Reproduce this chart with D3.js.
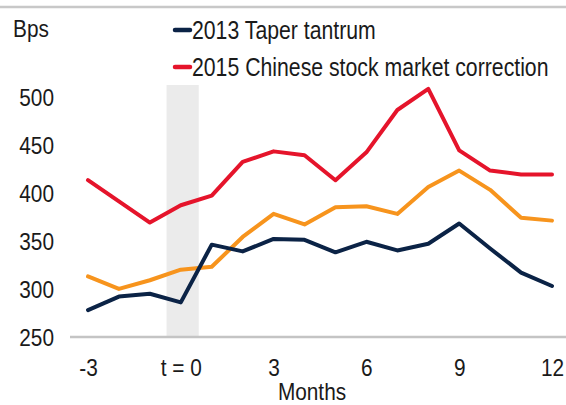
<!DOCTYPE html>
<html>
<head>
<meta charset="utf-8">
<script src="https://cdn.jsdelivr.net/npm/d3@7"></script>
<style>
  html, body { margin: 0; padding: 0; background: #fff; }
  svg { display: block; }
  text { font-family: "Liberation Sans", Arial, sans-serif; fill: #1a1a1a; }
</style>
</head>
<body>
<svg id="chart" width="566" height="405"></svg>
<script>
// ---- data ----
const months = [-3, -2, -1, 0, 1, 2, 3, 4, 5, 6, 7, 8, 9, 10, 11, 12];
const taper2013 = [278, 292, 295, 286, 346, 339, 352, 351, 338, 349, 340, 347, 368, 342, 317, 303];
const china2015 = [413, 391, 369, 387, 397, 432, 443, 439, 413, 442, 486, 508, 444, 423, 419, 419];
const otherEpisode = [313, 300, 309, 320, 323, 354, 378, 367, 385, 386, 378, 406, 423, 403, 374, 371];
const xTickValues = [-3, 0, 3, 6, 9, 12];
const xTickLabels = ["-3", "t = 0", "3", "6", "9", "12"];
const yTickValues = [250, 300, 350, 400, 450, 500];
const shadeRange = [-0.46, 0.58];
const legendItems = [
  { name: "2013 Taper tantrum", color: "#0b2346" },
  { name: "2015 Chinese stock market correction", color: "#e5142b" }
];

const series = [
  { values: otherEpisode, color: "#f7941d" },
  { values: taper2013, color: "#0b2346" },
  { values: china2015, color: "#e5142b" }
];

const FS = 24.5;      // font size (vertical)
const SX = 0.85;      // horizontal condensing of the narrow typeface

// ---- chart ----
const svg = d3.select("#chart");
const x = d3.scaleLinear().domain([-3, 12]).range([88, 552]);
const y = d3.scaleLinear().domain([250, 512]).range([337, 85]);

function label(px, py, str, anchor, size) {
  return svg.append("text")
    .attr("transform", `translate(${px},${py}) scale(${SX},1)`)
    .attr("text-anchor", anchor || "start")
    .attr("font-size", size || FS)
    .text(str);
}

// top rule
svg.append("line").attr("x1", 0).attr("x2", 566).attr("y1", 7).attr("y2", 7)
  .attr("stroke", "#c8c8c8").attr("stroke-width", 2.5);

// shaded band
svg.append("rect")
  .attr("x", x(shadeRange[0])).attr("width", x(shadeRange[1]) - x(shadeRange[0]))
  .attr("y", y(512)).attr("height", y(250) - y(512))
  .attr("fill", "#ebebeb");

// x axis
const xAxis = d3.axisBottom(x).tickValues(xTickValues)
  .tickFormat((d, i) => xTickLabels[i]).tickSize(0).tickPadding(0);
const gx = svg.append("g").attr("transform", `translate(0,${y(250)})`).call(xAxis);
gx.select(".domain").remove();
gx.selectAll("text")
  .attr("y", 0).attr("dy", 0)
  .attr("transform", `translate(0,39) scale(${SX},1)`)
  .attr("font-size", FS).style("font-family", null).attr("fill", "#1a1a1a");
svg.append("line").attr("x1", 70).attr("x2", 566).attr("y1", y(250)).attr("y2", y(250))
  .attr("stroke", "#c4c4c4").attr("stroke-width", 2.5);

// y axis
const yAxis = d3.axisLeft(y).tickValues(yTickValues).tickSize(0).tickPadding(0);
const gy = svg.append("g").attr("transform", "translate(54,0)").call(yAxis);
gy.select(".domain").remove();
gy.selectAll("text")
  .attr("x", 0).attr("dy", 0)
  .attr("transform", `translate(0,8.5) scale(${SX},1)`)
  .attr("font-size", FS).style("font-family", null).attr("fill", "#1a1a1a");

// lines
const line = d3.line().x((d, i) => x(months[i])).y(d => y(d));
series.forEach(s => {
  svg.append("path").datum(s.values).attr("d", line)
    .attr("fill", "none").attr("stroke", s.color).attr("stroke-width", 4)
    .attr("stroke-linejoin", "round").attr("stroke-linecap", "round");
});

// labels
label(13, 37, "Bps");
label(312, 400, "Months", "middle");

// legend
legendItems.forEach((d, i) => {
  const cy = 30 + i * 37;
  svg.append("line").attr("x1", 175).attr("x2", 190).attr("y1", cy).attr("y2", cy)
    .attr("stroke", d.color).attr("stroke-width", 4.5).attr("stroke-linecap", "round");
  label(192, cy + 9, d.name, "start", 25);
});
</script>
</body>
</html>
